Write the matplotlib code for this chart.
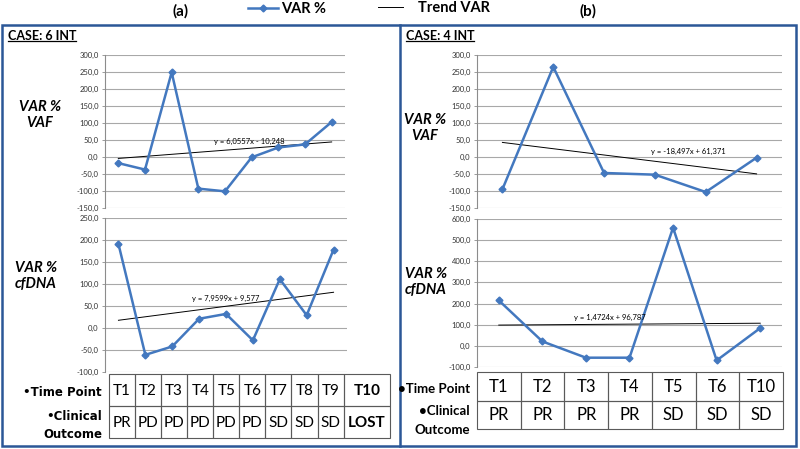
import matplotlib
matplotlib.use("Agg")
import matplotlib.pyplot as plt
from matplotlib.patches import Rectangle
from matplotlib.lines import Line2D
from matplotlib.ticker import FuncFormatter, MultipleLocator
import numpy as np

plt.rcParams["font.family"] = ["Lato", "DejaVu Sans"]

W, H = 800, 449

# ---- data ----
vaf_a = [-18, -37, 249, -93, -101, -1, 28, 37, 103]
cfdna_a = [191, -61, -42, 21, 32, -28, 111, 29, 178]
vaf_b = [-95, 265, -47, -52, -103, -2]
cfdna_b = [215, 21, -56, -56, 559, -69, 84]

trend_vaf_a = (6.0557, -10.248)
trend_cfdna_a = (7.9599, 9.577)
trend_vaf_b = (-18.497, 61.371)
trend_cfdna_b = (1.4724, 96.787)

eq_vaf_a = "y = 6,0557x - 10,248"
eq_cfdna_a = "y = 7,9599x + 9,577"
eq_vaf_b = "y = -18,497x + 61,371"
eq_cfdna_b = "y = 1,4724x + 96,787"

time_a = ["T1", "T2", "T3", "T4", "T5", "T6", "T7", "T8", "T9", "T10"]
outcome_a = ["PR", "PD", "PD", "PD", "PD", "PD", "SD", "SD", "SD", "LOST"]
time_b = ["T1", "T2", "T3", "T4", "T5", "T6", "T10"]
outcome_b = ["PR", "PR", "PR", "PR", "SD", "SD", "SD"]

BLUE = "#4378BF"
FRAME = "#2B5797"
GRID = "#A8A8A8"

fig = plt.figure(figsize=(W / 100, H / 100), dpi=100)


def px_axes(x0, y0, x1, y1):
    return fig.add_axes([x0 / W, 1 - y1 / H, (x1 - x0) / W, (y1 - y0) / H])


def fy(y):
    return 1 - y / H


comma = FuncFormatter(lambda v, _: f"{v:.1f}".replace(".", ","))


def chart(box, values, trend, eq, eq_pos, ylim, step):
    ax = px_axes(*box)
    x = np.arange(1, len(values) + 1)
    line, = ax.plot(x, values, color=BLUE, lw=1.8, marker="D", ms=3.5,
                    zorder=3)
    k, b = trend
    xt = np.array([x[0], x[-1]])
    tl, = ax.plot(xt, k * xt + b, color="black", lw=0.7, zorder=2)
    ax.text(eq_pos[0], eq_pos[1], eq, fontsize=5.5, ha="center",
            va="center", transform=ax.transData)
    ax.set_xlim(0.5, len(values) + 0.5)
    ax.set_ylim(*ylim)
    ax.yaxis.set_major_locator(MultipleLocator(step))
    ax.yaxis.set_major_formatter(comma)
    ax.grid(axis="y", color=GRID, lw=0.8)
    ax.set_axisbelow(True)
    for s in ("top", "right", "bottom"):
        ax.spines[s].set_visible(False)
    ax.spines["left"].set_color("#8C8C8C")
    ax.set_xticks([])
    ax.tick_params(axis="y", labelsize=5.5, length=2.5, width=0.6,
                   color="#8C8C8C", labelcolor="#333333", pad=2)
    return ax, line, tl


def table(box, top, bottom, widths, bold_last=False, size=11.5):
    ax = px_axes(*box)
    edges = np.concatenate([[0], np.cumsum(widths)])
    ax.set_xlim(0, edges[-1])
    ax.set_ylim(2, 0)
    ax.axis("off")
    for i, (t, o) in enumerate(zip(top, bottom)):
        for r, lab in enumerate((t, o)):
            ax.add_patch(Rectangle((edges[i], r), widths[i], 1, fill=False,
                                   ec="#5A5A5A", lw=0.8, clip_on=False))
            bold = bold_last and i == len(top) - 1
            ax.text((edges[i] + edges[i + 1]) / 2, r + 0.52, lab,
                    ha="center", va="center", fontsize=size,
                    fontweight="bold" if bold else "normal")
    return ax


# ---- panel (a) ----
ax1, line_var, line_trend = chart((105, 55, 345, 208), vaf_a, trend_vaf_a,
                                  eq_vaf_a, (5.9, 45), (-150, 300), 50)
chart((105, 218, 347, 372), cfdna_a, trend_cfdna_a, eq_cfdna_a,
      (5.0, 68), (-100, 250), 50)
table((109, 374, 390, 438), time_a, outcome_a, [1] * 9 + [1.78],
      bold_last=True, size=11)

# ---- panel (b) ----
chart((477, 55, 782, 208), vaf_b, trend_vaf_b, eq_vaf_b,
      (4.65, 15), (-150, 300), 50)
chart((477, 219, 782, 367), cfdna_b, trend_cfdna_b, eq_cfdna_b,
      (3.55, 135), (-100, 600), 100)
table((477, 372, 783, 429), time_b, outcome_b, [1] * 7, size=12)

# ---- axis titles ----
lab = dict(fontsize=10.5, fontweight="bold", style="italic", ha="center",
           va="center", linespacing=1.2)
fig.text(40 / W, fy(115), "VAR %\nVAF", **lab)
fig.text(36 / W, fy(276), "VAR %\ncfDNA", **lab)
fig.text(425 / W, fy(128), "VAR %\nVAF", **lab)
fig.text(426 / W, fy(282), "VAR %\ncfDNA", **lab)

# ---- table row labels ----
rl = dict(fontsize=8.5, fontweight="bold", ha="right", va="center",
          family="DejaVu Sans")
fig.text(102 / W, fy(393), "•Time Point", **rl)
fig.text(102 / W, fy(417), "•Clinical", **rl)
fig.text(102 / W, fy(434), "Outcome", **rl)
rl_b = dict(fontsize=9.5, fontweight="bold", ha="right", va="center")
fig.text(470 / W, fy(389), "•Time Point", **rl_b)
fig.text(470 / W, fy(411), "•Clinical", **rl_b)
fig.text(470 / W, fy(430), "Outcome", **rl_b)

# ---- frames ----
fig.add_artist(Rectangle((2 / W, fy(446)), 794 / W, 421 / H, fill=False,
                         ec=FRAME, lw=1.8, transform=fig.transFigure))
fig.add_artist(Line2D([399.5 / W, 399.5 / W], [fy(25), fy(446)], color=FRAME,
                      lw=1.8, transform=fig.transFigure))

# ---- headers ----
fig.text(181 / W, fy(11), "(a)", fontsize=11, fontweight="bold",
         ha="center", va="center")
fig.text(588 / W, fy(11), "(b)", fontsize=11, fontweight="bold",
         ha="center", va="center")

cases = []
for xp, s in ((8, "CASE: 6 INT"), (406, "CASE: 4 INT")):
    cases.append(fig.text(xp / W, fy(36), s, fontsize=9, fontweight="bold",
                          ha="left", va="center"))

fs = 10.5
fig.legend([line_var], ["VAR %"], loc="center left", frameon=False,
           bbox_to_anchor=(248 / W, fy(9)), borderpad=0, borderaxespad=0,
           handlelength=30 / (fs * 100 / 72), handletextpad=0.2,
           prop=dict(size=fs, weight="bold"))
fig.legend([line_trend], ["Trend VAR"], loc="center left", frameon=False,
           bbox_to_anchor=(378 / W, fy(8)), borderpad=0, borderaxespad=0,
           handlelength=25 / (fs * 100 / 72), handletextpad=1.0,
           prop=dict(size=fs, weight="bold"))

# underline the case titles
fig.canvas.draw()
r = fig.canvas.get_renderer()
for t in cases:
    bb = t.get_window_extent(r).transformed(fig.transFigure.inverted())
    fig.add_artist(Line2D([bb.x0, bb.x1], [bb.y0 + 0.002, bb.y0 + 0.002],
                          color="black", lw=0.9, transform=fig.transFigure))

fig.savefig("out.png", dpi=100)
